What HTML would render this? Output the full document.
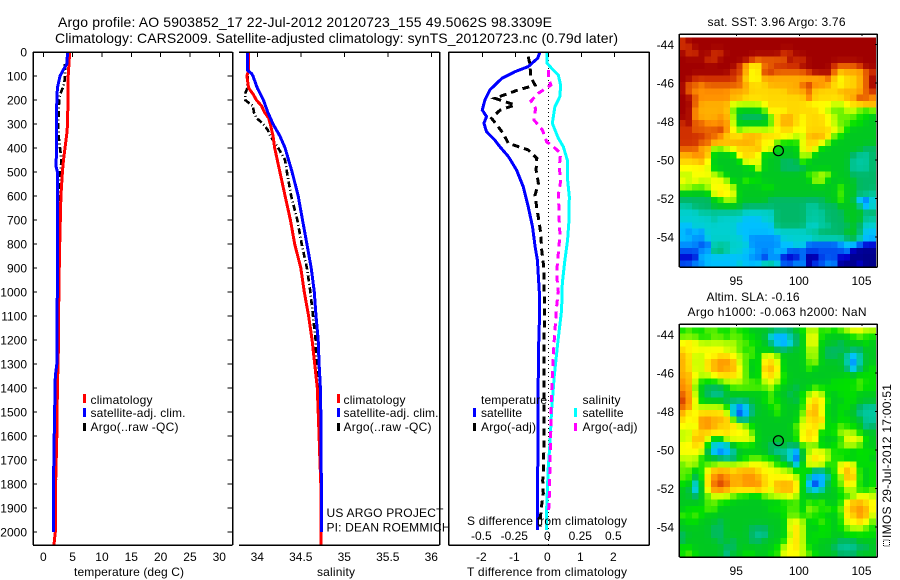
<!DOCTYPE html>
<html lang="en">
<head>
<meta charset="utf-8">
<title>Argo profile</title>
<style>
html,body{margin:0;padding:0;background:#fff;}
svg{display:block;}
text{font-family:"Liberation Sans",sans-serif;font-size:12px;fill:#000;}
.title{font-size:14px;}
.axis{stroke:#000;stroke-width:1.5;fill:none;shape-rendering:crispEdges;}
.tick{stroke:#000;stroke-width:1;shape-rendering:crispEdges;}
.mark{fill:none;shape-rendering:crispEdges;stroke-linejoin:miter;}
.swatch{shape-rendering:crispEdges;}
</style>
</head>
<body>
<svg id="fig" xmlns="http://www.w3.org/2000/svg" width="900" height="580" viewBox="0 0 900 580">
  <g>
    <text class="title" x="58" y="27" textLength="494">Argo profile: AO 5903852_17 22-Jul-2012 20120723_155 49.5062S 98.3309E</text>
    <text class="title" x="55" y="43" textLength="563">Climatology: CARS2009. Satellite-adjusted climatology: synTS_20120723.nc (0.79d later)</text>
  </g>
  <g id="marks"></g>
  <g id="axes"></g>

  <g>
    <rect class="swatch" x="83" y="394" width="3" height="9" fill="#ff0000"/>
    <rect class="swatch" x="83" y="408" width="3" height="9" fill="#0000ff"/>
    <rect class="swatch" x="83" y="423" width="3" height="8" fill="#000000"/>
    <text x="90.5" y="404" textLength="62">climatology</text>
    <text x="90.5" y="417" textLength="95">satellite-adj. clim.</text>
    <text x="90.5" y="431" textLength="88">Argo(..raw -QC)</text>
  </g>
  <g>
    <rect class="swatch" x="337" y="394" width="3" height="9" fill="#ff0000"/>
    <rect class="swatch" x="337" y="408" width="3" height="9" fill="#0000ff"/>
    <rect class="swatch" x="337" y="423" width="3" height="8" fill="#000000"/>
    <text x="343.5" y="404" textLength="62">climatology</text>
    <text x="343.5" y="417" textLength="95">satellite-adj. clim.</text>
    <text x="343.5" y="431" textLength="88">Argo(..raw -QC)</text>
  </g>
  <g>
    <text x="481" y="404" textLength="66">temperature</text>
    <rect class="swatch" x="473" y="408" width="3" height="9" fill="#0000ff"/>
    <text x="481" y="417" textLength="41">satellite</text>
    <rect class="swatch" x="473" y="423" width="3" height="8" fill="#000000"/>
    <text x="481" y="431" textLength="55">Argo(-adj)</text>
    <text x="582.5" y="404" textLength="38">salinity</text>
    <rect class="swatch" x="574" y="408" width="3" height="9" fill="#00ffff"/>
    <text x="582.5" y="417" textLength="41">satellite</text>
    <rect class="swatch" x="574" y="423" width="3" height="8" fill="#ff00ff"/>
    <text x="582.5" y="431" textLength="55">Argo(-adj)</text>
  </g>

  <text x="326.5" y="517" textLength="117">US ARGO PROJECT</text>
  <text x="326.5" y="531.5" textLength="124">PI: DEAN ROEMMICH</text>

  <text x="74" y="576" textLength="110">temperature (deg C)</text>
  <text x="317" y="576" textLength="38">salinity</text>
  <text x="467" y="525" textLength="160">S difference from climatology</text>
  <text x="467" y="576" textLength="160">T difference from climatology</text>

  <text x="707.5" y="26" textLength="138">sat. SST: 3.96 Argo: 3.76</text>
  <text x="706.5" y="301" textLength="93">Altim. SLA: -0.16</text>
  <text x="687.5" y="316" textLength="179">Argo h1000: -0.063 h2000: NaN</text>

  <g>
    <rect x="883.5" y="540" width="6" height="6" fill="none" stroke="#000" stroke-width="1" stroke-dasharray="1 1" shape-rendering="crispEdges"/>
    <text transform="translate(891,538) rotate(-90)" x="0" y="0" textLength="154">IMOS 29-Jul-2012 17:00:51</text>
  </g>
</svg>

<script>
// ---- depth profile data (depth in metres) ----
var tempClimDepth = [0,100,300,340,400,450,500,600,700,800,1000,1200,1400,1600,1800,2000,2055];
var tempClimValue = [4.5,4.25,4.15,4.0,3.7,3.45,3.25,3.0,2.9,2.8,2.65,2.6,2.4,2.3,2.1,2.05,1.8];
var tempSatDepth = [0,50,75,100,150,200,300,480,500,1000,1100,1300,1350,1550,1850,2000];
var tempSatValue = [4.15,4.0,3.4,2.85,2.4,2.3,2.25,2.2,2.4,2.4,2.3,2.3,2.05,1.9,1.7,1.7];
var tempArgoDepth = [50,100,125,150,175,200,300,350,400,450,500,600,800,1000,1200,1600,1800,1880];
var tempArgoValue = [3.7,3.7,3.6,3.3,2.9,2.7,2.55,2.6,2.85,3.1,2.9,2.7,2.6,2.5,2.45,2.25,2.15,2.1];

var salClimDepth = [0,75,100,150,175,200,225,250,275,300,350,400,500,600,700,800,900,1000,1100,1200,1300,1400,1500,1600,1700,1800,2055];
var salClimValue = [33.9,33.9,33.88,33.9,33.95,33.99,34.05,34.08,34.13,34.15,34.18,34.2,34.26,34.32,34.38,34.43,34.5,34.54,34.59,34.63,34.66,34.69,34.7,34.71,34.72,34.73,34.735];
var salSatDepth = [0,75,90,100,150,200,250,300,350,400,500,600,700,800,900,1000,1100,1200,1300,1400,1500,2000];
var salSatValue = [33.885,33.885,33.935,33.95,34.0,34.07,34.12,34.18,34.26,34.32,34.4,34.47,34.52,34.57,34.62,34.655,34.675,34.7,34.71,34.725,34.73,34.74];
var salArgoDepth = [100,125,150,175,200,225,250,275,300,325,350,400,450,500,600,700,800,900,1000,1100,1200,1300,1400,1500,1550];
var salArgoValue = [33.89,33.885,33.885,33.86,33.86,33.95,33.96,33.99,34.07,34.12,34.15,34.24,34.32,34.34,34.39,34.46,34.51,34.57,34.61,34.64,34.67,34.68,34.705,34.71,34.71];

var diffTSatDepth = [0,26,61,82,110,158,200,242,269,297,332,367,394,436,492,561,644,728,811,867,1006,1117,1255,1992];
var diffTSatValue = [-0.25,-0.32,-0.61,-1.01,-1.41,-1.77,-1.92,-2.0,-1.87,-1.95,-1.87,-1.62,-1.47,-1.21,-0.96,-0.76,-0.61,-0.48,-0.4,-0.33,-0.27,-0.27,-0.3,-0.33];
var diffTArgoDepth = [19,54,103,138,158,193,221,242,276,311,339,381,408,443,492,547,596,651,707,756,825,894,1006,1117,1728,1784,1839,1908,1978];
var diffTArgoValue = [-0.61,-0.55,-0.54,-0.4,-0.91,-1.62,-1.01,-1.46,-1.72,-1.52,-1.37,-1.21,-0.61,-0.35,-0.37,-0.3,-0.4,-0.35,-0.28,-0.23,-0.2,-0.14,-0.12,-0.12,-0.14,-0.17,-0.15,-0.22,-0.25];
var diffSSatDepth = [0,47,68,96,138,186,228,297,359,394,450,519,603,700,783,867,964,1075,1214,1353,1492,1631,1728,1908,1992];
var diffSSatValue = [-0.008,-0.008,0.025,0.076,0.093,0.088,0.05,0.03,0.076,0.114,0.144,0.144,0.159,0.157,0.146,0.126,0.106,0.101,0.071,0.045,0.025,0.013,0,-0.013,-0.013];
var diffSArgoDepth = [75,110,138,172,204,235,283,325,374,394,422,478,540,596,658,714,756,811,881,943,999,1061,1117,1214,1353,1492,1561,1700,1839,1908];
var diffSArgoValue = [0,0.003,0.02,-0.076,-0.131,-0.096,-0.109,-0.045,-0.013,0.038,0.093,0.083,0.093,0.076,0.081,0.083,0.088,0.081,0.068,0.066,0.076,0.063,0.056,0.043,0.03,0.02,0.02,0.013,0.008,0.003];

// ---- tick labels ----
var depthTicks = [0,100,200,300,400,500,600,700,800,900,1000,1100,1200,1300,1400,1500,1600,1700,1800,1900,2000];
var tempTicks = [0,5,10,15,20,25,30];
var salTicks = [34,34.5,35,35.5,36];
var diffTTicks = [-2,-1,0,1,2];
var diffSTicks = [-0.5,-0.25,0,0.25,0.5];
var lonTicks = [95,100,105];
var latTicks = [-44,-46,-48,-50,-52,-54];
var argoLon = [98.3309];
var argoLat = [-49.5062];

// ---- gridded map values: one colour level per cell, base-36 digit, north to south ----
var sstGrid = [
'hiiiiiiiii iiiiiiiiii iiiiiiiiiii',
'hhiiiiiiii iiiiiiiiii iiiiiiiiiii',
'ihhiihhiii iiiiiihhii iiiiiiiiiii',
'iiiihhiiii ihgggggihh iiiiiiiiiii',
'iiiiiiiiih eccgghhhhi iiiihggghii',
'iiiiiiiihh ecchhggggg hiiigdeeegh',
'iihhhhhhhg dcceeeeeee eeegdcddegi',
'iggfgggggg edddeeeeeg hffedcddegi',
'igffffffee eddddddeee gddddeeeegh',
'iigfffffee dddddddddd gdddddeehgf',
'iigeeeeebb bbbcdddddd ccccbbcddee',
'iifeeeeea8 888adccddd ddcbaabba9a',
'iifeeefeb7 7777adeedc dddcbaaa998',
'higgffffb8 8888adeedc dddcbaa9988',
'hhgggghfca bbbbbcddcc ddddcb98888',
'hhhhggfddd eeedddccbb eeeda988888',
'hhhggeeeee eedcca999c ddca8888888',
'gggeeaabcd ddecc8888c dc888888877',
'eeffe8888d ddc888888b b8888887667',
'dddec88888 ccc888777a 88888886667',
'ccccc88888 88c8887777 88888886667',
'bbcccba888 8888888888 aabb8887777',
'cbcbbccb88 a998888888 8bb88888777',
'bbaabcccb8 8889988888 88888a88777',
'88888cdcc8 8888888888 88888a88776',
'7777789bb8 8888777777 77788a88325',
'6677788888 7777777777 66777888735',
'5556666666 5555577777 66677788877',
'5555565555 4445577777 66677788866',
'4455555554 4444477777 55667778755',
'4343555554 4444455555 66777788744',
'4433555555 4333335555 56666678644',
'3332266655 5333334455 22222344211',
'2223377655 4433344222 22222230000',
'1114444444 4331331113 00222110000',
'2233444445 4446652233 02233000100'
];
var slaGrid = [
'9a99aa99a9 9888877789 bb9a9abccbb',
'aaa99aa9aa 9988433678 cc988889a99',
'cdcbbbbbba a998743478 cc888788898',
'dccccccbba 9a88877888 bb877787788',
'edbbccddcb aa8ccb8888 bb877863688',
'edbbdeffeb a88ddc8888 ab888862688',
'edbbdefeec a88eed8888 a8888873789',
'eecbbcdddc a88ddc9888 88888898999',
'feb999abbb aa9bcb9888 88889999a99',
'ffa87778aa aaaab98878 8a999999a99',
'gfb8766888 8888a88789 bcb88999888',
'hfc8888777 7889a98879 cdd98899888',
'gfbbbbba42 47889a8889 dec88998766',
'eccddddc31 37888a888a eec88988666',
'dccffeeeb6 688888888b dde88998866',
'ccbffedddc b9888888ac cdc89a99867',
'bbddddddcc ca8888889c dd899bbb988',
'bbeec88ccc cc8888889d dd8889ccc98',
'ccdd944489 998877877a aa889abba88',
'cccc732368 8888766528 bccb9998999',
'bbb9887668 9aa9987518 cdcb9988998',
'abb9aabbbb bcccb99839 ccc99cdc899',
'aa89ceeede eedcccbb99 96689ded989',
'aa79dfgfee ffedccccb9 63369aee989',
'9948dghgee fffdceeed9 31389adc989',
'8838cffedd ddedbeeed8 646889bb99a',
'8878abbba9 988abbbcb8 8888899accb',
'8888aa9988 88888899a8 a9a889deedc',
'8999aa8888 8888999aa8 ba9a9adefec',
'a9a9888888 8888889aa9 a99889ddfeb',
'8998887888 8888888ccb 89a989ccdca',
'8888877888 8777888cdb 889989abba9',
'7888877888 8766888bdb 89998899999',
'7888887878 8778889cdb 89888777888',
'9988888778 888889bcdb 98887666778',
'9a98888688 998899cccb a9888777888'
];
var levelColors = ['#00008c','#0000d0','#0050f0','#0090ff','#00c0ff','#00d0d0','#00c8a0','#00b868','#00c820','#00e000','#60f000','#c0ff00','#ffff00','#ffd800','#ffb000','#ff9000','#e86000','#d03000','#a00000'];

// ---- axis functions ----
function yDepth(d){return 52+0.24*d;}
function xTemp(v){return 43.3+5.867*v;}
function xSal(v){return 257.3+87*(v-34);}
function xDiffT(v){return 548.3+33*v;}
function xDiffS(v){return 548.3+132*v;}
function xLon(v){return 736.7+12.53*(v-95);}
function ySst(v){return 44.7+19.25*(-44-v);}
function ySla(v){return 334.7+19.25*(-44-v);}

var svgNS='http://www.w3.org/2000/svg';
var marks=document.getElementById('marks');
var axes=document.getElementById('axes');
function mk(tag,parent){var e=document.createElementNS(svgNS,tag);parent.appendChild(e);return e;}

function drawLine(depths,values,xf,color,width,dash,name){
  var p=mk('polyline',marks);
  
  
  p.setAttribute('class','mark');
  p.setAttribute('stroke',color);
  p.setAttribute('stroke-width',width);
  if(dash)p.setAttribute('stroke-dasharray',dash);
  p.setAttribute('points',depths.map(function(d,i){return xf(values[i]).toFixed(1)+','+yDepth(d).toFixed(1);}).join(' '));
}
function line(x1,y1,x2,y2,cls){
  var l=mk('line',axes);
  
  
  l.setAttribute('class',cls);
  l.setAttribute('x1',x1);l.setAttribute('y1',y1);l.setAttribute('x2',x2);l.setAttribute('y2',y2);
}
function label(x,y,str,anchor){
  var t=mk('text',axes);
  
  
  t.setAttribute('x',x);t.setAttribute('y',y);
  t.setAttribute('text-anchor',anchor);
  t.textContent=str;
}

// ---- maps ----
function levelOf(rows,r,c){
  r=Math.max(0,Math.min(rows.length-1,r));
  c=Math.max(0,Math.min(rows[r].length-1,c));
  return parseInt(rows[r].charAt(c),36);
}
function smoothLevel(rows,r,c,centre,edge,corner){
  var v=centre*levelOf(rows,r,c)
    +edge*(levelOf(rows,r-1,c)+levelOf(rows,r+1,c)+levelOf(rows,r,c-1)+levelOf(rows,r,c+1))
    +corner*(levelOf(rows,r-1,c-1)+levelOf(rows,r-1,c+1)+levelOf(rows,r+1,c-1)+levelOf(rows,r+1,c+1));
  return v/(centre+4*edge+4*corner);
}
function hexPart(h,i){return parseInt(h.substr(1+2*i,2),16);}
function colourAt(level){
  var i=Math.max(0,Math.min(levelColors.length-2,Math.floor(level)));
  var f=Math.max(0,Math.min(1,level-i));
  var rgb=[0,1,2].map(function(k){
    return Math.round(hexPart(levelColors[i],k)*(1-f)+hexPart(levelColors[i+1],k)*f);
  });
  return 'rgb('+rgb.join(',')+')';
}
var lonOrigin=90.42, lonStep=0.505, latOrigin=-43.616, latStep=0.3314;
function drawMap(grid,yf,name,centre,edge,corner){
  var rows=grid.map(function(s){return s.replace(/ /g,'');});
  rows.forEach(function(row,r){
    for(var c=0;c<row.length;c++){
      var x0=xLon(lonOrigin+c*lonStep), x1=xLon(lonOrigin+(c+1)*lonStep);
      var y0=yf(latOrigin-r*latStep), y1=yf(latOrigin-(r+1)*latStep);
      var cell=mk('rect',marks);
      
      
      cell.setAttribute('x',x0.toFixed(2));
      cell.setAttribute('y',y0.toFixed(2));
      cell.setAttribute('width',(x1-x0+0.4).toFixed(2));
      cell.setAttribute('height',(y1-y0+0.4).toFixed(2));
      cell.setAttribute('shape-rendering','crispEdges');
      cell.setAttribute('fill',colourAt(smoothLevel(rows,r,c,centre,edge,corner)));
    }
  });
}
drawMap(sstGrid,ySst,'sst',6,1,0);
drawMap(slaGrid,ySla,'sla',6,1,0.25);

// ---- profile series ----
var dashDot='6 2.5 1 2.5', dashed='7 5';
drawLine(tempArgoDepth,tempArgoValue,xTemp,'#000',2.6,dashDot,'temperature-argo-line');
drawLine(tempClimDepth,tempClimValue,xTemp,'#ff0000',3,null,'temperature-climatology-line');
drawLine(tempSatDepth,tempSatValue,xTemp,'#0000ff',3,null,'temperature-satellite-line');

drawLine(salArgoDepth,salArgoValue,xSal,'#000',2.6,dashDot,'salinity-argo-line');
drawLine(salClimDepth,salClimValue,xSal,'#ff0000',3,null,'salinity-climatology-line');
drawLine(salSatDepth,salSatValue,xSal,'#0000ff',3,null,'salinity-satellite-line');

var zeroLine=mk('line',marks);


zeroLine.setAttribute('x1',xDiffT(0));zeroLine.setAttribute('x2',xDiffT(0));
zeroLine.setAttribute('y1',yDepth(0));zeroLine.setAttribute('y2',yDepth(2055));
zeroLine.setAttribute('stroke','#000');zeroLine.setAttribute('stroke-dasharray','1 3');
zeroLine.setAttribute('shape-rendering','crispEdges');

drawLine(diffTSatDepth,diffTSatValue,xDiffT,'#0000ff',3,null,'t-difference-satellite-line');
drawLine(diffSSatDepth,diffSSatValue,xDiffS,'#00ffff',3,null,'s-difference-satellite-line');
drawLine(diffTArgoDepth,diffTArgoValue,xDiffT,'#000',3,dashed,'t-difference-argo-line');
drawLine(diffSArgoDepth,diffSArgoValue,xDiffS,'#ff00ff',3,dashed,'s-difference-argo-line');

[ySst,ySla].forEach(function(yf){
  var m=mk('circle',marks);
  
  
  m.setAttribute('cx',xLon(argoLon[0]).toFixed(1));
  m.setAttribute('cy',yf(argoLat[0]).toFixed(1));
  m.setAttribute('r','5');
  m.setAttribute('fill','none');
  m.setAttribute('stroke','#000');
  m.setAttribute('stroke-width','1.2');
});

// ---- axes ----
var top1=52,bot1=545;
// temperature panel
line(33,top1,33,bot1,'axis');line(232.5,top1,232.5,bot1,'axis');
line(33,top1,232.5,top1,'axis');line(33,bot1,232.5,bot1,'axis');
depthTicks.forEach(function(d){
  line(33,yDepth(d),37,yDepth(d),'tick');
  line(227.5,yDepth(d),232.5,yDepth(d),'tick');
  label(27,yDepth(d)+4.5,String(d),'end');
});
tempTicks.forEach(function(v){
  line(xTemp(v),top1,xTemp(v),top1+5,'tick');
  label(xTemp(v),561,String(v),'middle');
});
// salinity panel
line(239,top1,439.7,top1,'axis');line(239,bot1,439.7,bot1,'axis');line(439.7,top1,439.7,bot1,'axis');
salTicks.forEach(function(v){
  line(xSal(v),top1,xSal(v),top1+5,'tick');
  label(xSal(v),561,String(v),'middle');
});
// difference panel
line(448.5,top1,649.3,top1,'axis');line(448.5,bot1,649.3,bot1,'axis');
line(448.5,top1,448.5,bot1,'axis');line(649.3,top1,649.3,bot1,'axis');
diffTTicks.forEach(function(v){
  line(xDiffT(v),top1,xDiffT(v),top1+5,'tick');
  label(xDiffT(v)-1,561,String(v),'middle');
});
diffSTicks.forEach(function(v){
  label(xDiffS(v)-1,540,String(v),'middle');
});
// maps
[{yf:ySst,top:34,bot:267,lab:285},{yf:ySla,top:324,bot:557,lab:575}].forEach(function(m){
  line(679.3,m.top,679.3,m.bot,'axis');line(877.3,m.top,877.3,m.bot,'axis');
  line(679.3,m.top,877.3,m.top,'axis');line(679.3,m.bot,877.3,m.bot,'axis');
  lonTicks.forEach(function(v){
    line(xLon(v),m.top,xLon(v),m.top+2,'tick');
    label(xLon(v)-0.5,m.lab,String(v),'middle');
  });
  latTicks.forEach(function(v){
    line(875,m.yf(v),877.3,m.yf(v),'tick');
    label(674,m.yf(v)+4.5,String(v),'end');
  });
});
</script>
</body>
</html>
